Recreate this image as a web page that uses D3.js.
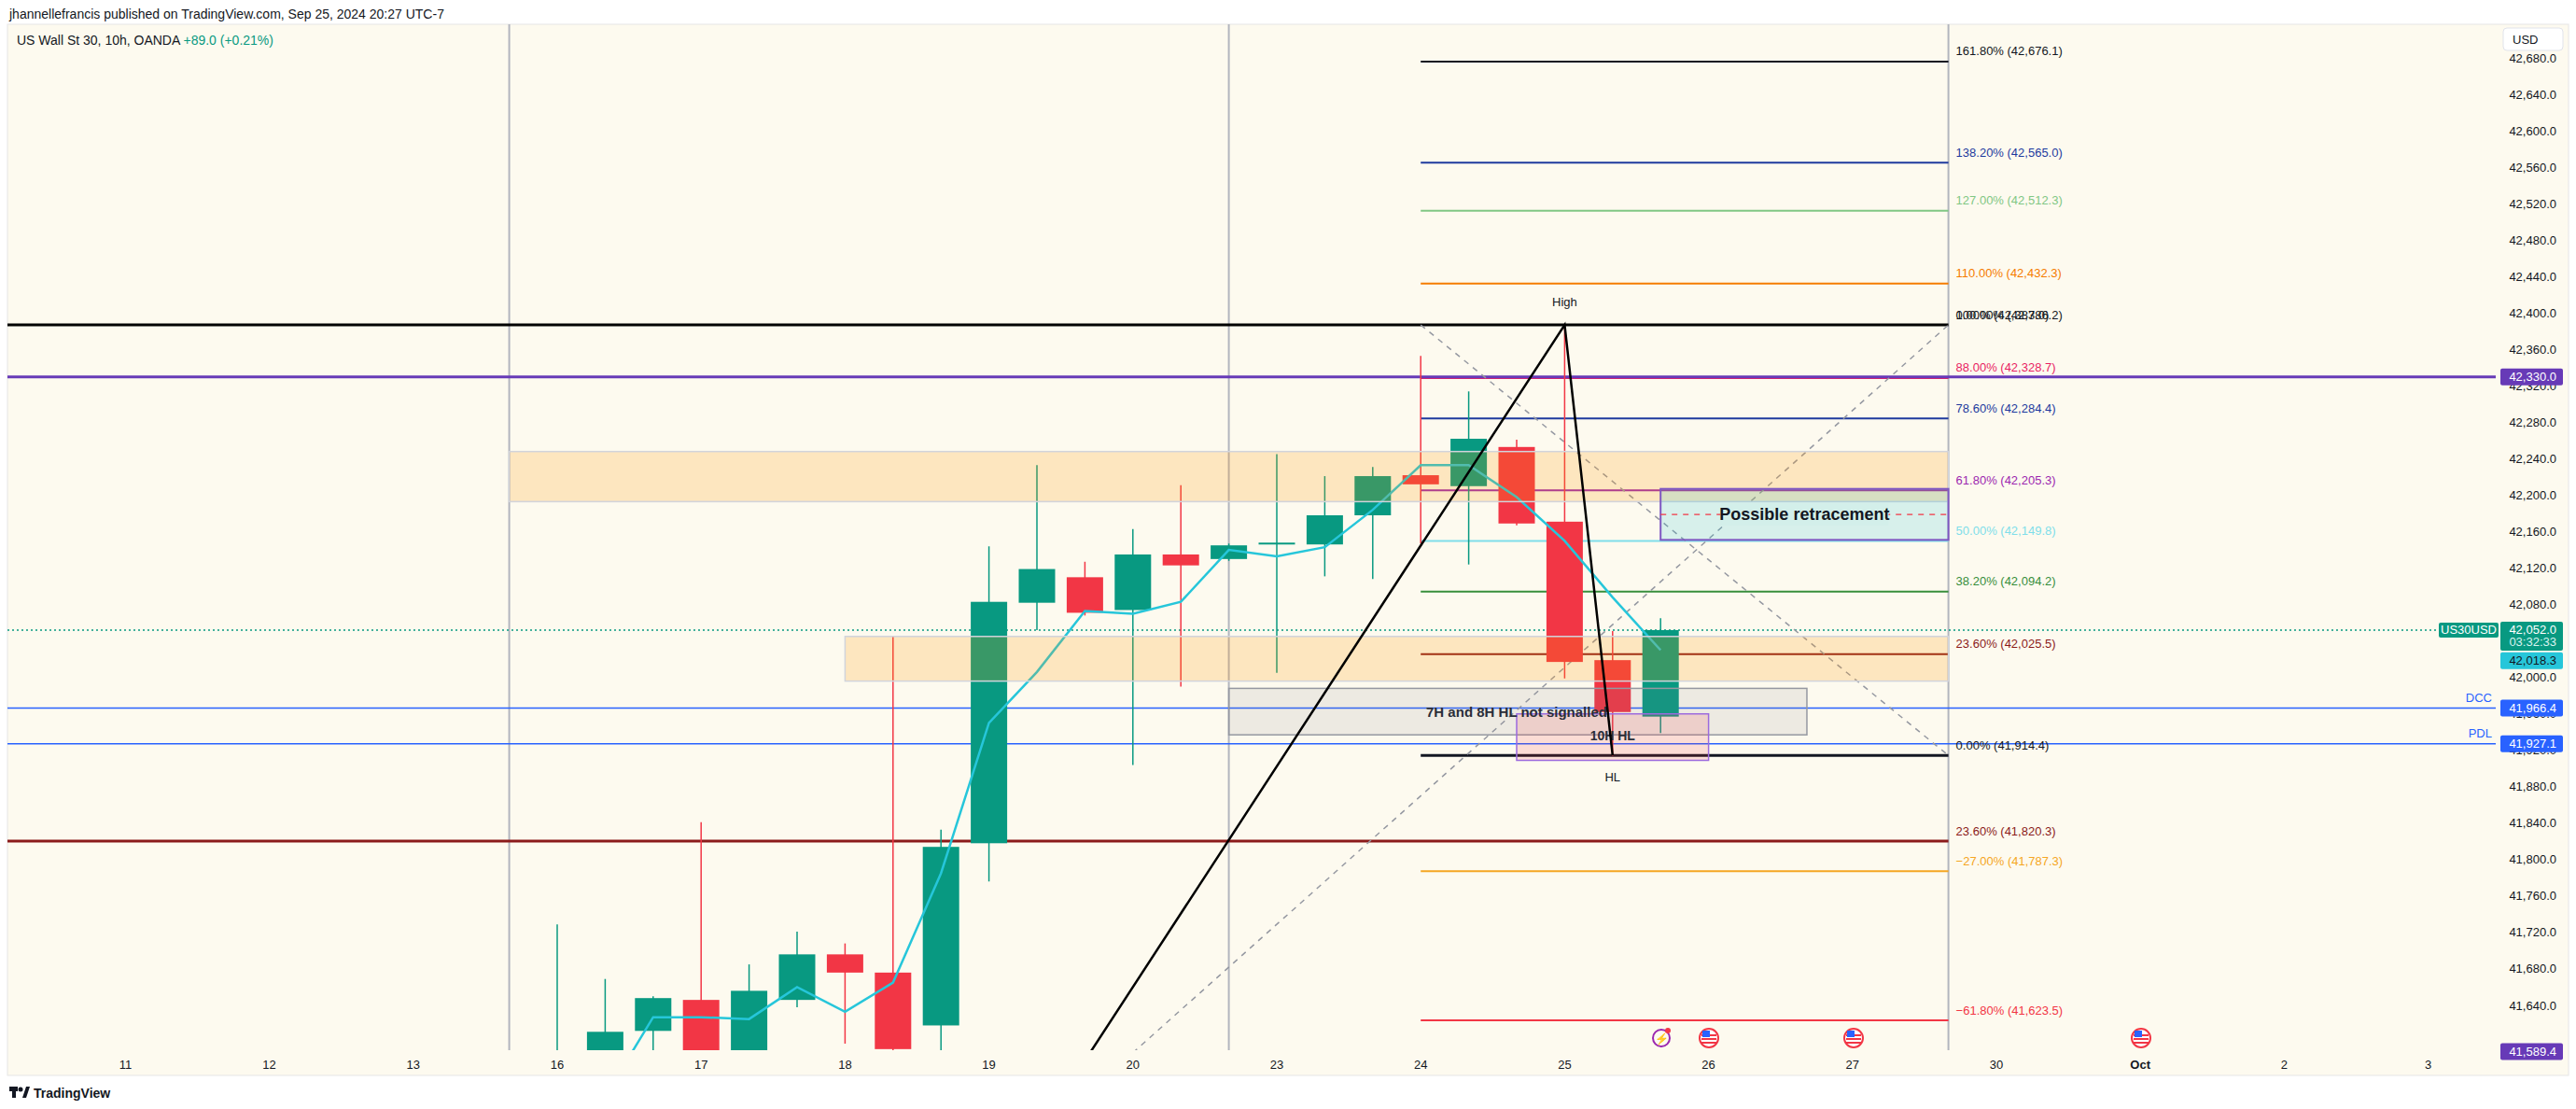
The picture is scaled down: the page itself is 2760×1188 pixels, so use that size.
<!DOCTYPE html>
<html><head><meta charset="utf-8">
<script src="https://cdn.jsdelivr.net/npm/d3@7/dist/d3.min.js"></script>
<style>body{margin:0;background:#fff;font-family:"Liberation Sans",Arial,sans-serif}</style>
</head><body><svg id="c" width="2760" height="1188"></svg>
<script>
// ---- data ----
const candleIdx = [0,1,2,3,4,5,6,7,8,9,10,11,12,13,14,15,16,17,18,19,20,21,22,23];
const opens  = [41560,41585,41612,41646,41585,41646,41696,41676,41618,41818,42082,42110,42074,42135,42130,42146,42146,42178,42222,42210,42253,42171,42019,41957];
const highs  = [41729,41669,41650,41841,41685,41721,41708,42045,41833,42144,42233,42127,42163,42211,42147,42245,42221,42231,42353,42314,42261,42383,42051,42065];
const lows   = [41500,41570,41580,41570,41575,41638,41598,41580,41585,41776,42052,42068,41904,41990,42128,42005,42111,42108,42147,42124,42167,41999,41914,41939];
const closes = [41580,41611,41648,41580,41656,41696,41676,41592,41814,42083,42119,42071,42135,42123,42145,42148,42178,42221,42212,42262,42169,42017,41962,42052];
const lineVals = [null,41540,41627,41627,41625,41660,41633,41665,41785,41950,42006,42073,42070,42083,42140,42133,42143,42184,42233,42233,42198,42150,42088,42030];
const dateTicks = [-9,-6,-3,0,3,6,9,12,15,18,21,24,27,30,33,36,39];
const dateLabels = ["11","12","13","16","17","18","19","20","23","24","25","26","27","30","Oct","2","3"];
const priceTicks = [42680,42640,42600,42560,42520,42480,42440,42400,42360,42320,42280,42240,42200,42160,42120,42080,42040,42000,41960,41920,41880,41840,41800,41760,41720,41680,41640];
const fibLevels = [
 {t:"161.80% (42,676.1)",p:42676.1,c:"#131722"},
 {t:"138.20% (42,565.0)",p:42565.0,c:"#1e3a9e"},
 {t:"127.00% (42,512.3)",p:42512.3,c:"#81c784"},
 {t:"110.00% (42,432.3)",p:42432.3,c:"#f57c00"},
 {t:"88.00% (42,328.7)",p:42328.7,c:"#e91e63"},
 {t:"78.60% (42,284.4)",p:42284.4,c:"#1e3a9e"},
 {t:"61.80% (42,205.3)",p:42205.3,c:"#9c27b0"},
 {t:"50.00% (42,149.8)",p:42149.8,c:"#80deea"},
 {t:"38.20% (42,094.2)",p:42094.2,c:"#388e3c"},
 {t:"23.60% (42,025.5)",p:42025.5,c:"#8b1a1a"},
 {t:"0.00% (41,914.4)",p:41914.4,c:"#131722"},
 {t:"−27.00% (41,787.3)",p:41787.3,c:"#f5a623"},
 {t:"−61.80% (41,623.5)",p:41623.5,c:"#f23645"}
];
const fibTop = {t1:"100.00% (42,386.2)",t2:"0.00% (42,387.0)",p:42387};
const lowerFib = {t:"23.60% (41,820.3)",p:41820.3,c:"#8b1a1a"};
const hLine = 42330, dcc = 41966.4, pdl = 41927.1, last = 42052, lineLast = 42018.3, bottomTag = 41589.4;
const zones = [{i0:-1,i1:29,p0:42248,p1:42193},{i0:6,i1:29,p0:42045,p1:41996}];
const trendPts = [[10.5,41539],[21,42387],[22,41914.4]];
const dash1 = [[18,42387],[29,41914.4]];
const dash2 = [[12,41588],[29,42387]];
const vLines = [-1,14,29];

// ---- scales ----
const svg = d3.select("#c");
const x = d3.scaleLinear().domain([0,1]).range([597,648.4]);
const y = d3.scaleLinear().domain([42120,41640]).range([608.6,1077]);
const L=8,R=2752,T=26,B=1152,PR=2674,PB=1125;
const ff='"Liberation Sans",Arial,sans-serif';

svg.append("rect").attr("x",L).attr("y",T).attr("width",R-L).attr("height",B-T).attr("fill","#fdfaef").attr("stroke","#e6e6e6");
svg.append("defs").append("clipPath").attr("id","pc").append("rect").attr("x",L).attr("y",T).attr("width",PR-L).attr("height",PB-T);
const g = svg.append("g").attr("clip-path","url(#pc)");

g.selectAll(".vl").data(vLines).join("line").attr("x1",d=>x(d)).attr("x2",d=>x(d)).attr("y1",T).attr("y2",PB).attr("stroke","#b2b5be").attr("stroke-width",2);

const fx0=x(18), fx1=x(29);
fibLevels.forEach(f=>{
  g.append("line").attr("x1",fx0).attr("x2",fx1).attr("y1",y(f.p)).attr("y2",y(f.p)).attr("stroke",f.c).attr("stroke-width",f.p===41914.4?3:2);
});
g.append("line").attr("x1",L).attr("x2",fx1).attr("y1",y(fibTop.p)).attr("y2",y(fibTop.p)).attr("stroke","#000").attr("stroke-width",3);
g.append("line").attr("x1",L).attr("x2",fx1).attr("y1",y(lowerFib.p)).attr("y2",y(lowerFib.p)).attr("stroke",lowerFib.c).attr("stroke-width",3);

[dcc,pdl].forEach(p=>g.append("line").attr("x1",L).attr("x2",PR).attr("y1",y(p)).attr("y2",y(p)).attr("stroke","#2962ff").attr("stroke-width",1.5));
g.append("line").attr("x1",L).attr("x2",PR).attr("y1",y(hLine)).attr("y2",y(hLine)).attr("stroke","#673ab7").attr("stroke-width",3);
g.append("line").attr("x1",L).attr("x2",PR).attr("y1",y(last)).attr("y2",y(last)).attr("stroke","#089981").attr("stroke-width",1.5).attr("stroke-dasharray","2,3");

const ln = d3.line().x(d=>x(d[0])).y(d=>y(d[1]));
[dash1,dash2].forEach(d=>g.append("path").attr("d",ln(d)).attr("fill","none").attr("stroke","#9598a1").attr("stroke-width",1.5).attr("stroke-dasharray","6,6"));

const cw = 39;
candleIdx.forEach((i,k)=>{
  const up = closes[k]>=opens[k], col = up?"#089981":"#f23645";
  g.append("line").attr("x1",x(i)).attr("x2",x(i)).attr("y1",y(highs[k])).attr("y2",y(lows[k])).attr("stroke",col).attr("stroke-width",1.5);
  const t=y(Math.max(opens[k],closes[k])), b=y(Math.min(opens[k],closes[k]));
  g.append("rect").attr("x",x(i)-cw/2).attr("y",t).attr("width",cw).attr("height",Math.max(2,b-t)).attr("fill",col);
});

const cl = d3.line().defined((d)=>d!==null).x((d,k)=>x(candleIdx[k])).y(d=>y(d));
g.append("path").attr("d",cl(lineVals)).attr("fill","none").attr("stroke","#26c6da").attr("stroke-width",2.5);

zones.forEach(z=>g.append("rect").attr("x",x(z.i0)).attr("y",y(z.p0)).attr("width",x(z.i1)-x(z.i0)).attr("height",y(z.p1)-y(z.p0)).attr("fill","rgba(255,152,0,0.2)").attr("stroke","#d1d4dc").attr("stroke-width",1.5));

g.append("rect").attr("x",x(14)).attr("y",y(41988)).attr("width",x(26.05)-x(14)).attr("height",y(41937)-y(41988)).attr("fill","rgba(120,123,134,0.12)").attr("stroke","#9598a1").attr("stroke-width",1.5);
g.append("rect").attr("x",x(20)).attr("y",y(41960)).attr("width",x(24)-x(20)).attr("height",y(41909)-y(41960)).attr("fill","rgba(242,54,69,0.15)").attr("stroke","#9c6ade").attr("stroke-width",1.5);
g.append("rect").attr("x",x(23)).attr("y",y(42207)).attr("width",x(29)-x(23)).attr("height",y(42151)-y(42207)).attr("fill","rgba(0,188,212,0.15)").attr("stroke","#7e57c2").attr("stroke-width",2);
const midY=(y(42207)+y(42151))/2;
g.append("line").attr("x1",x(23)).attr("x2",x(29)).attr("y1",midY).attr("y2",midY).attr("stroke","#f23645").attr("stroke-width",1.2).attr("stroke-dasharray","6,6");
g.append("rect").attr("x",x(26)-90).attr("y",midY-12).attr("width",180).attr("height",24).attr("fill","#d3efea");
g.append("text").attr("x",x(26)).attr("y",midY).attr("text-anchor","middle").attr("dominant-baseline","central").attr("font-size",18).attr("font-weight","bold").attr("fill","#131722").attr("font-family",ff).text("Possible retracement");
g.append("text").attr("x",x(20)).attr("y",y(41962)).attr("text-anchor","middle").attr("dominant-baseline","central").attr("font-size",15).attr("font-weight","bold").attr("fill","#2a2e39").attr("font-family",ff).text("7H and 8H HL not signalled");
g.append("text").attr("x",x(22)).attr("y",y(41936)).attr("text-anchor","middle").attr("dominant-baseline","central").attr("font-size",14).attr("font-weight","bold").attr("fill","#2a2e39").attr("font-family",ff).text("10H HL");

g.append("path").attr("d",ln(trendPts)).attr("fill","none").attr("stroke","#000").attr("stroke-width",2.5);
g.append("text").attr("x",x(21)).attr("y",y(42387)-20).attr("text-anchor","middle").attr("font-size",13).attr("fill","#131722").attr("font-family",ff).text("High");
g.append("text").attr("x",x(22)).attr("y",y(41914.4)+28).attr("text-anchor","middle").attr("font-size",13).attr("fill","#131722").attr("font-family",ff).text("HL");

const lx = fx1+8;
fibLevels.concat([lowerFib]).forEach(f=>svg.append("text").attr("x",lx).attr("y",y(f.p)-11).attr("dominant-baseline","central").attr("font-size",13).attr("fill",f.c).attr("font-family",ff).text(f.t));
svg.append("text").attr("x",lx).attr("y",y(fibTop.p)-11).attr("dominant-baseline","central").attr("font-size",13).attr("fill","#131722").attr("font-family",ff).text(fibTop.t1);
svg.append("text").attr("x",lx).attr("y",y(fibTop.p)-11).attr("dominant-baseline","central").attr("font-size",13).attr("fill","#131722").attr("font-family",ff).text(fibTop.t2);

const ic = svg.append("g");
ic.append("circle").attr("cx",1780).attr("cy",1112).attr("r",9).attr("fill","none").attr("stroke","#9c27b0").attr("stroke-width",2);
ic.append("text").attr("x",1780).attr("y",1113).attr("text-anchor","middle").attr("dominant-baseline","central").attr("font-size",12).attr("fill","#9c27b0").text("⚡");
ic.append("circle").attr("cx",1787).attr("cy",1104).attr("r",3).attr("fill","#f23645");
[1831,1986,2294].forEach(cx=>{
  ic.append("circle").attr("cx",cx).attr("cy",1112).attr("r",10).attr("fill","#fff").attr("stroke","#f23645").attr("stroke-width",2);
  [0,1,2].forEach(k=>ic.append("rect").attr("x",cx-8).attr("y",1108+k*4).attr("width",16).attr("height",2).attr("fill","#f23645"));
  ic.append("rect").attr("x",cx-7).attr("y",1104).attr("width",8).attr("height",7).attr("fill","#2962ff");
});

const yAx = svg.append("g");
priceTicks.forEach(p=>yAx.append("text").attr("x",2739).attr("y",y(p)).attr("text-anchor","end").attr("dominant-baseline","central").attr("font-size",13).attr("fill","#131722").attr("font-family",ff).text(d3.format(",.1f")(p)));
function tag(p,txt,bg,fg,h){
  h=h||18;
  yAx.append("rect").attr("x",2679).attr("y",y(p)-h/2).attr("width",67).attr("height",h).attr("rx",2).attr("fill",bg);
  yAx.append("text").attr("x",2739).attr("y",y(p)).attr("text-anchor","end").attr("dominant-baseline","central").attr("font-size",13).attr("fill",fg).attr("font-family",ff).text(txt);
}
tag(hLine,"42,330.0","#673ab7","#fff");
tag(lineLast,"42,018.3","#26c6da","#131722");
tag(dcc,"41,966.4","#2962ff","#fff");
tag(pdl,"41,927.1","#2962ff","#fff");
tag(bottomTag,"41,589.4","#673ab7","#fff");
yAx.append("rect").attr("x",2679).attr("y",y(last)-9).attr("width",67).attr("height",31).attr("rx",2).attr("fill","#089981");
yAx.append("text").attr("x",2739).attr("y",y(last)).attr("text-anchor","end").attr("dominant-baseline","central").attr("font-size",13).attr("fill","#fff").attr("font-family",ff).text("42,052.0");
yAx.append("text").attr("x",2739).attr("y",y(last)+13).attr("text-anchor","end").attr("dominant-baseline","central").attr("font-size",13).attr("fill","#d8f3ee").attr("font-family",ff).text("03:32:33");
yAx.append("rect").attr("x",2613).attr("y",y(last)-8).attr("width",64).attr("height",16).attr("rx",2).attr("fill","#089981");
yAx.append("text").attr("x",2645).attr("y",y(last)).attr("text-anchor","middle").attr("dominant-baseline","central").attr("font-size",13).attr("fill","#fff").attr("font-family",ff).text("US30USD");
yAx.append("text").attr("x",2670).attr("y",y(dcc)-11).attr("text-anchor","end").attr("dominant-baseline","central").attr("font-size",13).attr("fill","#2962ff").attr("font-family",ff).text("DCC");
yAx.append("text").attr("x",2670).attr("y",y(pdl)-11).attr("text-anchor","end").attr("dominant-baseline","central").attr("font-size",13).attr("fill","#2962ff").attr("font-family",ff).text("PDL");
yAx.append("rect").attr("x",2682).attr("y",30).attr("width",64).attr("height",24).attr("rx",4).attr("fill","#fff").attr("stroke","#e0e3eb");
yAx.append("text").attr("x",2692).attr("y",42).attr("dominant-baseline","central").attr("font-size",13).attr("fill","#131722").attr("font-family",ff).text("USD");

dateTicks.forEach((t,k)=>svg.append("text").attr("x",x(t)).attr("y",1140).attr("text-anchor","middle").attr("dominant-baseline","central").attr("font-size",13).attr("font-weight",dateLabels[k]==="Oct"?"bold":"normal").attr("fill","#131722").attr("font-family",ff).text(dateLabels[k]));

svg.append("text").attr("x",10).attr("y",15).attr("dominant-baseline","central").attr("font-size",14).attr("fill","#131722").attr("font-family",ff).text("jhannellefrancis published on TradingView.com, Sep 25, 2024 20:27 UTC-7");
const h2 = svg.append("text").attr("x",18).attr("y",43).attr("dominant-baseline","central").attr("font-size",14).attr("font-family",ff);
h2.append("tspan").attr("fill","#131722").text("US Wall St 30, 10h, OANDA  ");
h2.append("tspan").attr("fill","#089981").text("+89.0 (+0.21%)");

const lg = svg.append("g");
lg.append("rect").attr("x",10).attr("y",1164).attr("width",9).attr("height",5).attr("fill","#131722");
lg.append("rect").attr("x",13).attr("y",1169).attr("width",4).attr("height",7).attr("fill","#131722");
lg.append("circle").attr("cx",22).attr("cy",1167).attr("r",2.5).attr("fill","#131722");
lg.append("path").attr("d","M24,1176 L28,1164 L32,1164 L28,1176 Z").attr("fill","#131722");
svg.append("text").attr("x",36).attr("y",1171).attr("dominant-baseline","central").attr("font-size",14).attr("font-weight","bold").attr("fill","#131722").attr("font-family",ff).text("TradingView");
</script></body></html>
